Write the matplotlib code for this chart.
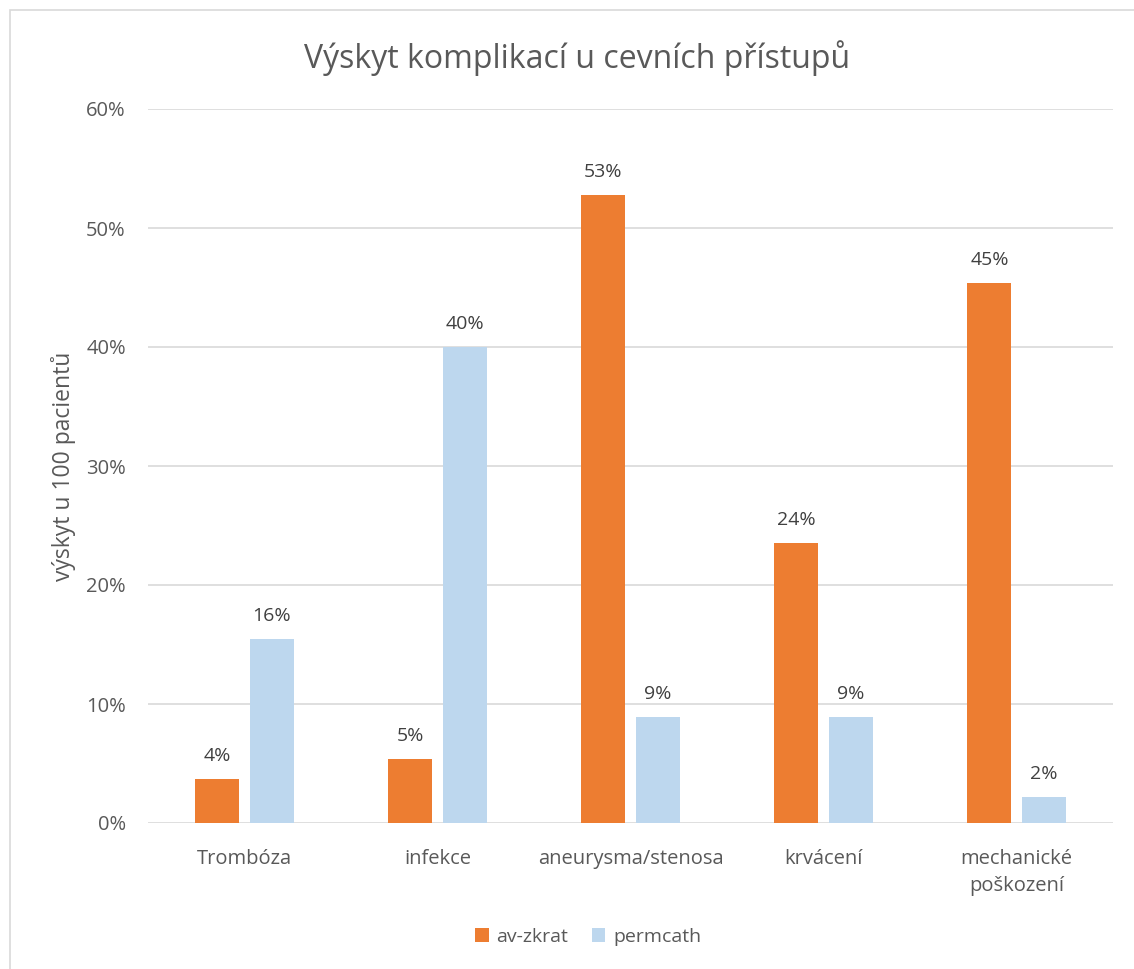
import matplotlib

matplotlib.use("Agg")
import matplotlib.pyplot as plt
import numpy as np
from matplotlib.patches import Rectangle

plt.rcParams["font.family"] = ["Open Sans", "DejaVu Sans"]

categories = ["Trombóza", "infekce", "aneurysma/stenosa", "krvácení", "mechanické\npoškození"]
av_zkrat = [0.037, 0.054, 0.528, 0.235, 0.454]
permcath = [0.155, 0.400, 0.089, 0.089, 0.022]
yticks = [0.0, 0.1, 0.2, 0.3, 0.4, 0.5, 0.6]

TEXT = "#595959"
GRID = "#d9d9d9"

fig = plt.figure(figsize=(11.34, 9.69), dpi=100)
ax = fig.add_axes([148 / 1134, 1 - 823 / 969, (1113 - 148) / 1134, (823 - 109) / 969])

x = np.arange(len(categories))
w = 0.228
off = 0.14
b1 = ax.bar(x - off, av_zkrat, w, color="#ED7D31", label="av-zkrat", zorder=3)
b2 = ax.bar(x + off, permcath, w, color="#BDD7EE", label="permcath", zorder=3)

for bars, vals in ((b1, av_zkrat), (b2, permcath)):
    for r, v in zip(bars, vals):
        ax.annotate(f"{v * 100:.0f}%", (r.get_x() + r.get_width() / 2, v),
                    xytext=(0, 10), textcoords="offset points",
                    ha="center", va="bottom", fontsize=14, color="#404040")

ax.set_xlim(-0.5, len(categories) - 0.5)
ax.set_ylim(0, 0.6)
ax.set_yticks(yticks)
ax.set_yticklabels([f"{t * 100:.0f}%" for t in yticks])
ax.set_xticks(x)
ax.set_xticklabels(categories, linespacing=1.45)
ax.tick_params(axis="both", length=0, colors=TEXT, labelsize=14.5)
ax.tick_params(axis="y", pad=16)
ax.tick_params(axis="x", pad=19)
ax.grid(axis="y", color=GRID, linewidth=1.2, zorder=0)
for s in ax.spines.values():
    s.set_visible(False)

ax.set_ylabel("výskyt u 100 pacientů", fontsize=16.5, color=TEXT, labelpad=7)

fig.text(577 / 1134, 1 - 58 / 969, "Výskyt komplikací u cevních přístupů",
         ha="center", va="center", fontsize=23, color=TEXT)

fig.legend(handles=[b1, b2], loc="center", bbox_to_anchor=(588 / 1134, 1 - 937 / 969),
           ncol=2, frameon=False, fontsize=14, handlelength=0.7, handleheight=0.7,
           columnspacing=1.2, handletextpad=0.4, labelcolor=TEXT)

fig.patches.append(Rectangle((10 / 1134, -0.01), 1.1, 1 - 10 / 969 + 0.01,
                             transform=fig.transFigure, fill=False,
                             edgecolor="#d9d9d9", linewidth=1.2))

fig.savefig("out.png", dpi=100)
